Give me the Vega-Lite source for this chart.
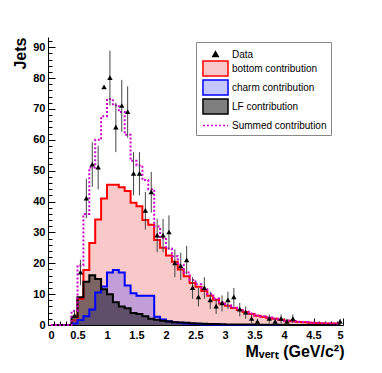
{
  "$schema": "https://vega.github.io/schema/vega-lite/v6.json",
  "width": 295,
  "height": 288,
  "autosize": {"type": "none"},
  "padding": {"left": 48, "top": 37, "right": 39, "bottom": 48},
  "background": "white",
  "config": {
    "view": {"stroke": null},
    "font": "Liberation Sans",
    "axis": {"labelFont": "Liberation Sans", "labelFontWeight": "bold", "labelFontSize": 11, "labelColor": "#000", "domainColor": "#000", "tickColor": "#000", "grid": false, "titleColor": "#000", "titleFont": "Liberation Sans", "titleFontWeight": "bold"},
    "legend": {"symbolSize": 225, "symbolStrokeWidth": 1.5, "labelFontSize": 10, "labelFont": "Liberation Sans", "labelColor": "#000", "rowPadding": -2.5, "padding": 4, "strokeColor": "#888", "fillColor": "white", "labelOffset": 8, "symbolOffset": 7}
  },
  "datasets": {
    "hist": [
      {"lo": 0.0, "hi": 0.1, "c": 0.05, "bottom": 0, "charm": 0, "LF": 0, "Summed": 0},
      {"lo": 0.1, "hi": 0.2, "c": 0.15, "bottom": 0, "charm": 0, "LF": 0, "Summed": 0},
      {"lo": 0.2, "hi": 0.3, "c": 0.25, "bottom": 0, "charm": 0, "LF": 0, "Summed": 0},
      {"lo": 0.3, "hi": 0.4, "c": 0.35, "bottom": 0, "charm": 0, "LF": 0, "Summed": 0},
      {"lo": 0.4, "hi": 0.5, "c": 0.45, "bottom": 1.5, "charm": 0.5, "LF": 2.7, "Summed": 4.5},
      {"lo": 0.5, "hi": 0.6, "c": 0.55, "bottom": 8.5, "charm": 1.6, "LF": 9, "Summed": 19.3},
      {"lo": 0.6, "hi": 0.7, "c": 0.65, "bottom": 17.8, "charm": 2.8, "LF": 14, "Summed": 36},
      {"lo": 0.7, "hi": 0.8, "c": 0.75, "bottom": 26.6, "charm": 5, "LF": 16.1, "Summed": 51},
      {"lo": 0.8, "hi": 0.9, "c": 0.85, "bottom": 34.2, "charm": 10.5, "LF": 14.9, "Summed": 60},
      {"lo": 0.9, "hi": 1.0, "c": 0.95, "bottom": 41, "charm": 12.5, "LF": 11.6, "Summed": 67.6},
      {"lo": 1.0, "hi": 1.1, "c": 1.05, "bottom": 45.4, "charm": 17, "LF": 10, "Summed": 73.2},
      {"lo": 1.1, "hi": 1.2, "c": 1.15, "bottom": 45.4, "charm": 17.8, "LF": 7.4, "Summed": 71.2},
      {"lo": 1.2, "hi": 1.3, "c": 1.25, "bottom": 44.6, "charm": 17, "LF": 6, "Summed": 69},
      {"lo": 1.3, "hi": 1.4, "c": 1.35, "bottom": 43.4, "charm": 12.8, "LF": 5.4, "Summed": 61.6},
      {"lo": 1.4, "hi": 1.5, "c": 1.45, "bottom": 39.6, "charm": 10.3, "LF": 3.9, "Summed": 53.2},
      {"lo": 1.5, "hi": 1.6, "c": 1.55, "bottom": 38.5, "charm": 9.5, "LF": 3.6, "Summed": 51.7},
      {"lo": 1.6, "hi": 1.7, "c": 1.65, "bottom": 34, "charm": 9.5, "LF": 2.8, "Summed": 47},
      {"lo": 1.7, "hi": 1.8, "c": 1.75, "bottom": 32.5, "charm": 9.5, "LF": 2, "Summed": 44},
      {"lo": 1.8, "hi": 1.9, "c": 1.85, "bottom": 27.5, "charm": 2.7, "LF": 1.7, "Summed": 31.9},
      {"lo": 1.9, "hi": 2.0, "c": 1.95, "bottom": 25, "charm": 1.8, "LF": 1.4, "Summed": 28.2},
      {"lo": 2.0, "hi": 2.1, "c": 2.05, "bottom": 22.5, "charm": 1.2, "LF": 1.1, "Summed": 24.8},
      {"lo": 2.1, "hi": 2.2, "c": 2.15, "bottom": 20.5, "charm": 0.9, "LF": 0.9, "Summed": 22.3},
      {"lo": 2.2, "hi": 2.3, "c": 2.25, "bottom": 18, "charm": 0.7, "LF": 0.8, "Summed": 19.5},
      {"lo": 2.3, "hi": 2.4, "c": 2.35, "bottom": 15.8, "charm": 0.5, "LF": 0.7, "Summed": 17},
      {"lo": 2.4, "hi": 2.5, "c": 2.45, "bottom": 13.6, "charm": 0.4, "LF": 0.6, "Summed": 14.6},
      {"lo": 2.5, "hi": 2.6, "c": 2.55, "bottom": 12.4, "charm": 0.3, "LF": 0.5, "Summed": 13.2},
      {"lo": 2.6, "hi": 2.7, "c": 2.65, "bottom": 11, "charm": 0.2, "LF": 0.4, "Summed": 11.6},
      {"lo": 2.7, "hi": 2.8, "c": 2.75, "bottom": 9.5, "charm": 0.2, "LF": 0.35, "Summed": 10.05},
      {"lo": 2.8, "hi": 2.9, "c": 2.85, "bottom": 8.2, "charm": 0.1, "LF": 0.3, "Summed": 8.6},
      {"lo": 2.9, "hi": 3.0, "c": 2.95, "bottom": 7, "charm": 0.1, "LF": 0.25, "Summed": 7.35},
      {"lo": 3.0, "hi": 3.1, "c": 3.05, "bottom": 6.2, "charm": 0, "LF": 0.2, "Summed": 6.4},
      {"lo": 3.1, "hi": 3.2, "c": 3.15, "bottom": 5.5, "charm": 0, "LF": 0.2, "Summed": 5.7},
      {"lo": 3.2, "hi": 3.3, "c": 3.25, "bottom": 4.9, "charm": 0, "LF": 0.2, "Summed": 5.1},
      {"lo": 3.3, "hi": 3.4, "c": 3.35, "bottom": 4.2, "charm": 0, "LF": 0.15, "Summed": 4.35},
      {"lo": 3.4, "hi": 3.5, "c": 3.45, "bottom": 3.6, "charm": 0, "LF": 0.15, "Summed": 3.75},
      {"lo": 3.5, "hi": 3.6, "c": 3.55, "bottom": 3.0, "charm": 0, "LF": 0.1, "Summed": 3.1},
      {"lo": 3.6, "hi": 3.7, "c": 3.65, "bottom": 2.7, "charm": 0, "LF": 0.1, "Summed": 2.8},
      {"lo": 3.7, "hi": 3.8, "c": 3.75, "bottom": 2.3, "charm": 0, "LF": 0.1, "Summed": 2.4},
      {"lo": 3.8, "hi": 3.9, "c": 3.85, "bottom": 2.0, "charm": 0, "LF": 0.05, "Summed": 2.05},
      {"lo": 3.9, "hi": 4.0, "c": 3.95, "bottom": 1.7, "charm": 0, "LF": 0.05, "Summed": 1.75},
      {"lo": 4.0, "hi": 4.1, "c": 4.05, "bottom": 1.4, "charm": 0, "LF": 0, "Summed": 1.45},
      {"lo": 4.1, "hi": 4.2, "c": 4.15, "bottom": 1.2, "charm": 0, "LF": 0, "Summed": 1.25},
      {"lo": 4.2, "hi": 4.3, "c": 4.25, "bottom": 1.0, "charm": 0, "LF": 0, "Summed": 1.05},
      {"lo": 4.3, "hi": 4.4, "c": 4.35, "bottom": 0.9, "charm": 0, "LF": 0, "Summed": 0.95},
      {"lo": 4.4, "hi": 4.5, "c": 4.45, "bottom": 0.75, "charm": 0, "LF": 0, "Summed": 0.8},
      {"lo": 4.5, "hi": 4.6, "c": 4.55, "bottom": 0.65, "charm": 0, "LF": 0, "Summed": 0.7},
      {"lo": 4.6, "hi": 4.7, "c": 4.65, "bottom": 0.55, "charm": 0, "LF": 0, "Summed": 0.6},
      {"lo": 4.7, "hi": 4.8, "c": 4.75, "bottom": 0.5, "charm": 0, "LF": 0, "Summed": 0.55},
      {"lo": 4.8, "hi": 4.9, "c": 4.85, "bottom": 0.45, "charm": 0, "LF": 0, "Summed": 0.5},
      {"lo": 4.9, "hi": 5.0, "c": 4.95, "bottom": 0.4, "charm": 0, "LF": 0, "Summed": 0.45}
    ],
    "pts": [
      {"c": 0.45, "v": 3, "e": 1.7, "comp": "Data"},
      {"c": 0.55, "v": 17, "e": 4.1, "comp": "Data"},
      {"c": 0.65, "v": 41, "e": 6.4, "comp": "Data"},
      {"c": 0.75, "v": 52, "e": 7.2, "comp": "Data"},
      {"c": 0.85, "v": 51, "e": 7.1, "comp": "Data"},
      {"c": 0.95, "v": 77, "e": 0, "comp": "Data"},
      {"c": 1.05, "v": 80, "e": 8.9, "comp": "Data"},
      {"c": 1.15, "v": 64, "e": 8, "comp": "Data"},
      {"c": 1.25, "v": 71, "e": 8.4, "comp": "Data"},
      {"c": 1.35, "v": 69, "e": 8.3, "comp": "Data"},
      {"c": 1.45, "v": 49, "e": 7, "comp": "Data"},
      {"c": 1.55, "v": 49, "e": 7, "comp": "Data"},
      {"c": 1.65, "v": 37, "e": 6.1, "comp": "Data"},
      {"c": 1.75, "v": 43, "e": 6.6, "comp": "Data"},
      {"c": 1.85, "v": 29, "e": 5.4, "comp": "Data"},
      {"c": 1.95, "v": 29, "e": 5.4, "comp": "Data"},
      {"c": 2.05, "v": 30, "e": 5.5, "comp": "Data"},
      {"c": 2.15, "v": 20, "e": 4.5, "comp": "Data"},
      {"c": 2.25, "v": 19, "e": 4.4, "comp": "Data"},
      {"c": 2.35, "v": 21, "e": 4.6, "comp": "Data"},
      {"c": 2.45, "v": 12, "e": 3.5, "comp": "Data"},
      {"c": 2.55, "v": 9, "e": 3, "comp": "Data"},
      {"c": 2.65, "v": 12, "e": 3.5, "comp": "Data"},
      {"c": 2.75, "v": 8, "e": 2.8, "comp": "Data"},
      {"c": 2.85, "v": 6, "e": 2.4, "comp": "Data"},
      {"c": 2.95, "v": 7, "e": 2.6, "comp": "Data"},
      {"c": 3.05, "v": 8, "e": 2.8, "comp": "Data"},
      {"c": 3.15, "v": 9, "e": 3, "comp": "Data"},
      {"c": 3.25, "v": 5, "e": 2.2, "comp": "Data"},
      {"c": 3.35, "v": 4, "e": 2, "comp": "Data"},
      {"c": 3.45, "v": 2, "e": 1.4, "comp": "Data"},
      {"c": 3.55, "v": 1, "e": 1, "comp": "Data"},
      {"c": 3.75, "v": 2, "e": 1.4, "comp": "Data"},
      {"c": 3.85, "v": 1, "e": 1, "comp": "Data"},
      {"c": 3.95, "v": 2, "e": 1.4, "comp": "Data"},
      {"c": 4.05, "v": 1, "e": 1, "comp": "Data"},
      {"c": 4.15, "v": 2, "e": 1.4, "comp": "Data"},
      {"c": 4.95, "v": 1, "e": 1, "comp": "Data"}
    ]
  },
  "layer": [
    {
      "data": {"name": "hist"},
      "transform": [{"fold": ["bottom", "charm", "LF", "Summed"], "as": ["comp", "v"]}],
      "mark": {"type": "area", "interpolate": "step"},
      "encoding": {
        "x": {"field": "c", "type": "quantitative", "scale": {"domain": [0, 5], "nice": false, "zero": false},
              "axis": {"orient": "bottom", "values": [0, 0.5, 1, 1.5, 2, 2.5, 3, 3.5, 4, 4.5, 5], "format": "~g", "tickSize": -7, "labelPadding": 11, "title": "Mᵥₑᵣₜ (GeV/c²)", "titleFontSize": 16, "titleAnchor": "end", "titleAlign": "right", "titleX": 296, "titleY": 18, "titleBaseline": "top"}},
        "y": {"field": "v", "type": "quantitative", "stack": null, "scale": {"domain": [0, 93.3], "nice": false, "zero": true},
              "axis": {"orient": "left", "values": [0, 10, 20, 30, 40, 50, 60, 70, 80, 90], "tickSize": -7, "labelPadding": 10, "title": "Jets", "titleFontSize": 16, "titleAngle": -90, "titleAlign": "right", "titleBaseline": "bottom", "titleX": -20, "titleY": 0}},
        "fill": {"field": "comp", "type": "nominal",
                 "scale": {"domain": ["Data", "bottom", "charm", "LF", "Summed"], "range": ["#000000", "#f9c8c8", "rgba(50,50,255,0.28)", "rgba(0,0,0,0.5)", "transparent"]},
                 "legend": {"orient": "none", "legendX": 148, "legendY": 5, "title": null, "labelExpr": "datum.label == 'Data' ? 'Data' : datum.label + ' contribution'"}}
      }
    },
    {
      "data": {"name": "hist"},
      "transform": [{"fold": ["bottom", "charm", "LF", "Summed"], "as": ["comp", "v"]}],
      "mark": {"type": "line", "interpolate": "step", "strokeWidth": 2},
      "encoding": {
        "x": {"field": "c", "type": "quantitative",
              "axis": {"orient": "bottom", "values": [0.1,0.2,0.3,0.4,0.6,0.7,0.8,0.9,1.1,1.2,1.3,1.4,1.6,1.7,1.8,1.9,2.1,2.2,2.3,2.4,2.6,2.7,2.8,2.9,3.1,3.2,3.3,3.4,3.6,3.7,3.8,3.9,4.1,4.2,4.3,4.4,4.6,4.7,4.8,4.9], "tickSize": -4, "labels": false, "domain": false, "title": null}},
        "y": {"field": "v", "type": "quantitative",
              "axis": {"orient": "left", "values": [2,4,6,8,12,14,16,18,22,24,26,28,32,34,36,38,42,44,46,48,52,54,56,58,62,64,66,68,72,74,76,78,82,84,86,88,92], "tickSize": -4, "labels": false, "domain": false, "title": null}},
        "stroke": {"field": "comp", "type": "nominal",
                   "scale": {"domain": ["Data", "bottom", "charm", "LF", "Summed"], "range": ["#000000", "#ff0000", "#0000ff", "#000000", "#cc00cc"]},
                   "legend": {"orient": "none", "legendX": 148, "legendY": 5, "title": null, "labelExpr": "datum.label == 'Data' ? 'Data' : datum.label + ' contribution'"}},
        "strokeDash": {"field": "comp", "type": "nominal",
                   "scale": {"domain": ["Data", "bottom", "charm", "LF", "Summed"], "range": [[1, 0], [1, 0], [1, 0], [1, 0], [2, 2]]},
                   "legend": {"orient": "none", "legendX": 148, "legendY": 5, "title": null, "labelExpr": "datum.label == 'Data' ? 'Data' : datum.label + ' contribution'"}}
      }
    },
    {
      "data": {"name": "pts"},
      "mark": {"type": "errorbar", "ticks": false, "color": "#444444", "thickness": 1},
      "encoding": {
        "x": {"field": "c", "type": "quantitative", "axis": null},
        "y": {"field": "v", "type": "quantitative", "axis": null},
        "yError": {"field": "e"}
      }
    },
    {
      "data": {"name": "pts"},
      "mark": {"type": "point", "filled": true, "size": 225, "opacity": 1},
      "encoding": {
        "x": {"field": "c", "type": "quantitative", "axis": null},
        "y": {"field": "v", "type": "quantitative", "axis": null},
        "shape": {"field": "comp", "type": "nominal",
                  "scale": {"domain": ["Data", "bottom", "charm", "LF", "Summed"], "range": ["M0,-0.36L0.36,0.26L-0.36,0.26Z", "M-1.67,-1H1.67V1H-1.67Z", "M-1.67,-1H1.67V1H-1.67Z", "M-1.67,-1H1.67V1H-1.67Z", "M-1.67,0H1.67"]},
                  "legend": {"orient": "none", "legendX": 148, "legendY": 5, "title": null, "labelExpr": "datum.label == 'Data' ? 'Data' : datum.label + ' contribution'"}},
        "fill": {"field": "comp", "type": "nominal",
                 "scale": {"domain": ["Data", "bottom", "charm", "LF", "Summed"], "range": ["#000000", "#f9c8c8", "rgba(50,50,255,0.28)", "rgba(0,0,0,0.5)", "transparent"]},
                 "legend": {"orient": "none", "legendX": 148, "legendY": 5, "title": null, "labelExpr": "datum.label == 'Data' ? 'Data' : datum.label + ' contribution'"}}
      }
    },
    {
      "mark": {"type": "text", "align": "left", "baseline": "middle", "font": "Liberation Sans", "fontWeight": "bold", "fontSize": 10, "color": "#ff0000"},
      "encoding": {
        "x": {"datum": 2.317, "type": "quantitative", "axis": null},
        "y": {"datum": 59.3, "type": "quantitative", "axis": null},
        "text": {"value": "fᵇ =  71.3 ±  4.7(stat) ± 6.4(syst) %"}
      }
    },
    {
      "mark": {"type": "text", "align": "left", "baseline": "middle", "font": "Liberation Sans", "fontWeight": "bold", "fontSize": 10, "color": "#0000ff"},
      "encoding": {
        "x": {"datum": 2.317, "type": "quantitative", "axis": null},
        "y": {"datum": 55.0, "type": "quantitative", "axis": null},
        "text": {"value": "fᶜ =  15.9 ±  5.5(stat) %"}
      }
    },
    {
      "mark": {"type": "text", "align": "left", "baseline": "middle", "font": "Liberation Sans", "fontWeight": "bold", "fontSize": 10, "color": "#000000"},
      "encoding": {
        "x": {"datum": 2.232, "type": "quantitative", "axis": null},
        "y": {"datum": 50.7, "type": "quantitative", "axis": null},
        "text": {"value": "fᴸᶠ =  12.6 ±  3.5(stat) %"}
      }
    }
  ],
  "resolve": {"axis": {"x": "independent", "y": "independent"}}
}
